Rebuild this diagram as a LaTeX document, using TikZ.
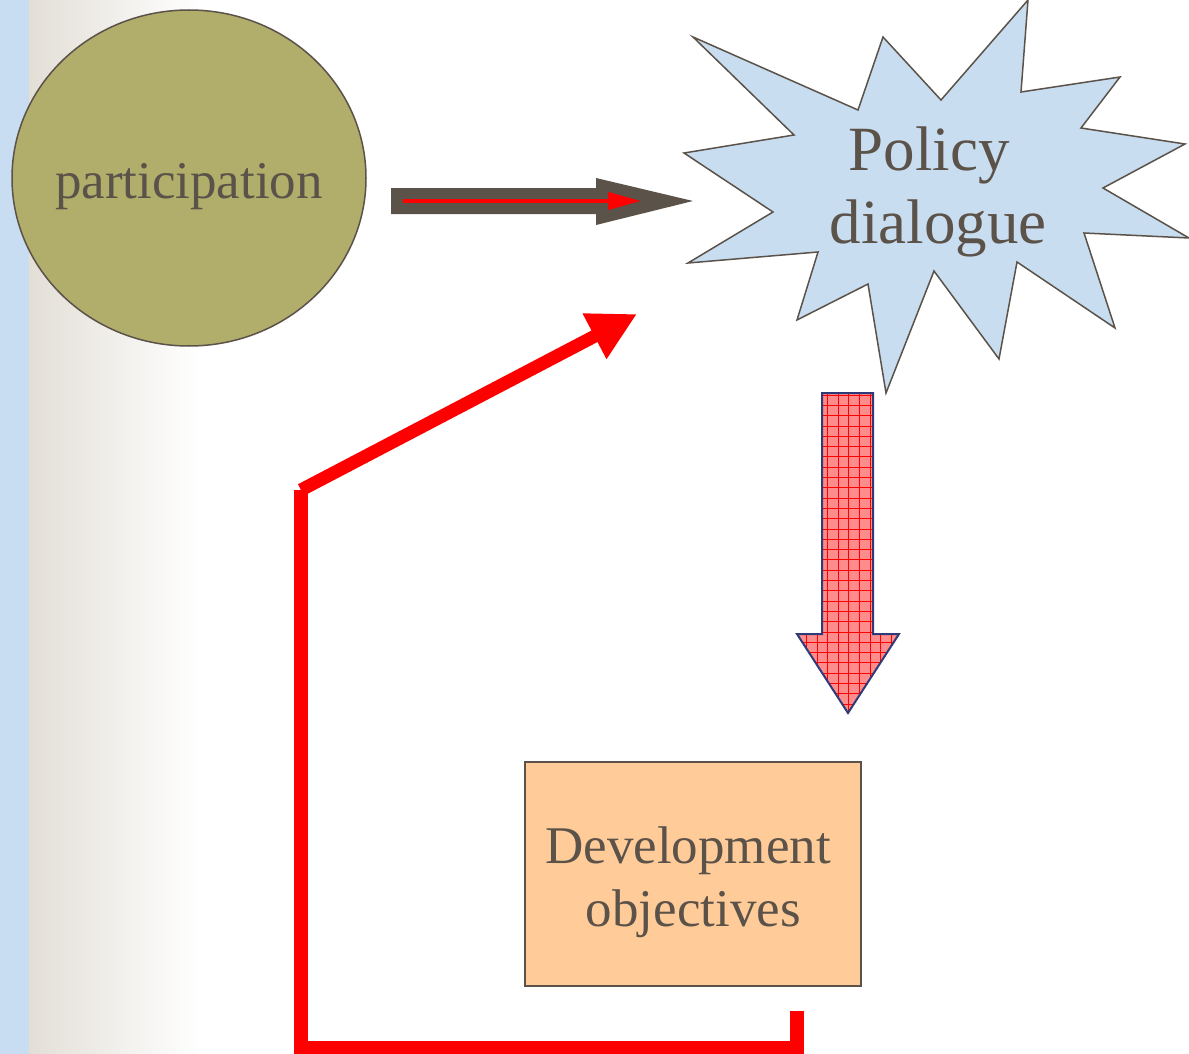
\documentclass[tikz,border=0pt]{standalone}
\usepackage{fontspec}
\setmainfont{Liberation Serif}
\usetikzlibrary{arrows.meta,shapes.geometric}
\definecolor{txt}{RGB}{91,82,73}
\definecolor{stripe}{RGB}{200,221,241}
\definecolor{grad}{RGB}{227,223,215}
\definecolor{olive}{RGB}{177,174,108}
\definecolor{burst}{RGB}{200,221,240}
\definecolor{peach}{RGB}{255,204,153}
\definecolor{navy}{RGB}{46,59,120}
\definecolor{pinkfill}{RGB}{255,140,140}
\tikzset{
  outline/.style={draw=txt, line width=1.5pt},
  bigtext/.style={text=txt, font=\fontsize{53}{63}\selectfont},
  hugetext/.style={text=txt, font=\fontsize{63}{73}\selectfont},
  grayarrow/.style={fill=txt},
  thinred/.style={draw=red, line width=4pt, -{Triangle[length=33pt,width=17pt]}},
  redline/.style={draw=red, line width=14pt, line join=miter, line cap=butt},
}
\begin{document}
\begin{tikzpicture}[x=1pt,y=-1pt]
\useasboundingbox (0,0) rectangle (1189,1054);
% background
\fill[white] (0,0) rectangle (1189,1054);
\shade[left color=grad, right color=white] (29,0) rectangle (200,1054);
\fill[stripe] (0,0) rectangle (29,1054);

% participation
\node[ellipse, outline, fill=olive, minimum width=354pt, minimum height=336pt, inner sep=0pt] (part) at (189,178) {};
\node[bigtext] (parttext) at (189,187) {participation};

% starburst
\filldraw[outline, fill=burst] (693,37) -- (858,110) -- (883,37) -- (941,100) -- (1028,0) -- (1021,92)
  -- (1120,77) -- (1081,128) -- (1185,144) -- (1103,188) -- (1189,238) -- (1084,233)
  -- (1115,328) -- (1017,262) -- (999,359) -- (934,271) -- (886,393) -- (868,284)
  -- (797,320) -- (818,252) -- (688,263) -- (773,212) -- (684,153) -- (794,135) -- cycle;
\node[hugetext, align=center, inner sep=0pt] (policy) at (938,192) {Policy\hspace*{18pt}\\dialogue};

% gray block arrow participation -> policy
\coordinate (ga) at (391,201);
\coordinate (gb) at (693,201);
\fill[grayarrow] (ga) ++(0,-13) -- ++(205,0) -- ++(0,-10) -- (gb) -- ++(-97,24) -- ++(0,-11) -- ++(-205,0) -- cycle;
\coordinate (ra) at (403,201);
\coordinate (rb) at (641,201);
\draw[thinred] (ra) -- (rb);

% down block arrow
\path[fill=pinkfill] (822,393) -- (873,393) -- (873,634) -- (899,634) -- (848,713) -- (797,634) -- (822,634) -- cycle;
\begin{scope}
\clip (822,393) -- (873,393) -- (873,634) -- (899,634) -- (848,713) -- (797,634) -- (822,634) -- cycle;
\foreach \i in {0,...,10} { \draw[red, line width=0.8pt] (795.8+10.6*\i,390) -- (795.8+10.6*\i,720); }
\foreach \j in {0,...,31} { \draw[red, line width=0.8pt] (790,395+10.3*\j) -- (905,395+10.3*\j); }
\end{scope}
\draw[navy, line width=2pt, line join=miter] (822,393) -- (873,393) -- (873,634) -- (899,634) -- (848,713) -- (797,634) -- (822,634) -- cycle;

% development objectives
\node[rectangle, outline, fill=peach, minimum width=336pt, minimum height=224pt, inner sep=0pt] (dev) at (693,874) {};
\node[bigtext, align=center, inner sep=0pt] (devtext) at (688,882) {Development\\\hspace*{0.2em}objectives};

% red feedback path
\coordinate (fs) at (797,1011);
\coordinate (fc1) at (797,1048);
\coordinate (fc2) at (301,1048);
\coordinate (fc3) at (301,490);
\coordinate (ft) at (637,314);
\draw[redline] (fs) -- (fc1) -- (fc2) -- (fc3);
\draw[draw=red, line width=13pt, line cap=butt, -{Triangle[length=48pt,width=48pt]}] (fc3) -- (ft);
\end{tikzpicture}
\end{document}
